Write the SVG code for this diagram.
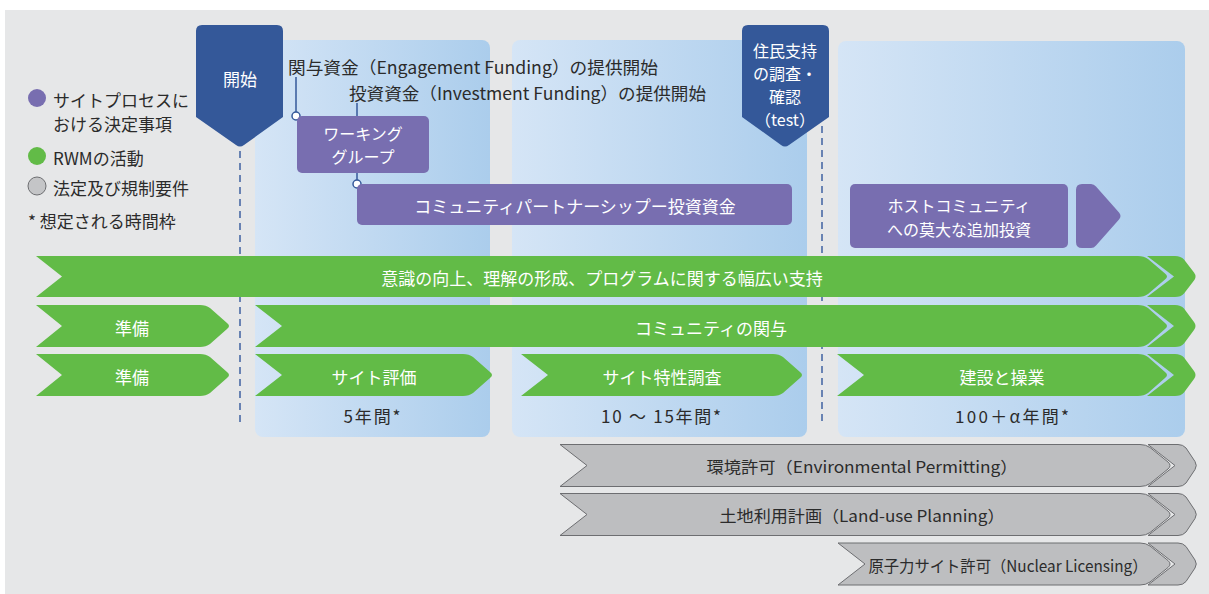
<svg xmlns="http://www.w3.org/2000/svg" width="1209" height="594" viewBox="0 0 1209 594">
<defs>
<linearGradient id="panelGrad" x1="0" y1="0" x2="1" y2="0">
<stop offset="0" stop-color="#d5e5f6"/>
<stop offset="1" stop-color="#abcdec"/>
</linearGradient>
<style>
text{font-family:"Noto Sans CJK JP","Noto Sans",sans-serif;}
.bg{fill:#e6e7e8;}
.panel{fill:url(#panelGrad);}
.banner{fill:#345899;}
.wt{fill:#ffffff;font-size:17px;text-anchor:middle;dominant-baseline:central;}
.ws{fill:#ffffff;font-size:16px;text-anchor:middle;dominant-baseline:central;}
.dk{fill:#2b2b2b;font-size:17px;dominant-baseline:central;}
.dkm{fill:#2b2b2b;font-size:17px;text-anchor:middle;dominant-baseline:central;}
.gt{fill:#2b2b2b;font-size:16px;text-anchor:middle;dominant-baseline:central;}
.purple{fill:#786eb0;}
.green{fill:#62bb47;}
.gray{fill:#bdbec0;stroke:#6d6e71;stroke-width:1;}
.dash{stroke:#4a6aa5;stroke-width:1.6;stroke-dasharray:7 5;fill:none;}
.conn{stroke:#34589a;stroke-width:1.5;fill:none;}
.dot{fill:#ffffff;stroke:#34589a;stroke-width:1.5;}
</style>
</defs>

<rect class="bg" x="5" y="10" width="1204" height="584"/>

<g id="panels">
<rect class="panel" x="255" y="40" width="235" height="397" rx="8"/>
<rect class="panel" x="512" y="40" width="295" height="397" rx="8"/>
<rect class="panel" x="838" y="41" width="347" height="396" rx="8"/>
</g>

<g id="legend">
<circle cx="37" cy="98" r="9" fill="#786eb0"/>
<text class="dk" x="53" y="99">サイトプロセスに</text>
<text class="dk" x="53" y="123">おける決定事項</text>
<circle cx="37" cy="156" r="9" fill="#62bb47"/>
<text class="dk" x="53" y="157">RWMの活動</text>
<circle cx="37" cy="186" r="9" fill="#c4c5c7" stroke="#6d6e71" stroke-width="1"/>
<text class="dk" x="53" y="187">法定及び規制要件</text>
<text class="dk" x="28" y="220">* 想定される時間枠</text>
</g>

<g id="connectors">
<line class="dash" x1="240" y1="151" x2="240" y2="426"/>
<line class="dash" x1="822" y1="126" x2="822" y2="423"/>
<line class="conn" x1="296" y1="77" x2="296" y2="112"/>
<line class="conn" x1="357" y1="103" x2="357" y2="116"/>
<line class="conn" x1="357" y1="173" x2="357" y2="180"/>
<circle class="dot" cx="296" cy="116" r="4"/>
<circle class="dot" cx="357" cy="184" r="4"/>
</g>

<g id="start">
<path class="banner" d="M202,25 H277 Q283,25 283,31 V117 L244,145 Q240,148 236,145 L196,117 V31 Q196,25 202,25 Z"/>
<text class="wt" x="240" y="78">開始</text>
</g>

<g id="test">
<path class="banner" d="M748,25 H823 Q829,25 829,31 V117 L789,145 Q785,148 781,145 L742,117 V31 Q742,25 748,25 Z"/>
<text class="ws" x="785" y="49.5">住民支持</text>
<text class="ws" x="785" y="72.8">の調査・</text>
<text class="ws" x="785" y="96.1">確認</text>
<text class="ws" x="785" y="119.4">（test）</text>
</g>

<g id="funding-labels">
<text class="dk" x="288" y="66" textLength="370" lengthAdjust="spacingAndGlyphs">関与資金（Engagement Funding）の提供開始</text>
<text class="dk" x="349" y="92" textLength="357" lengthAdjust="spacingAndGlyphs">投資資金（Investment Funding）の提供開始</text>
</g>

<g id="working-group">
<rect class="purple" x="297" y="116" width="132" height="57" rx="5"/>
<text class="ws" x="363" y="132.5">ワーキング</text>
<text class="ws" x="363" y="155.8">グループ</text>
</g>

<g id="community-partnership">
<rect class="purple" x="357" y="184" width="435" height="41" rx="5"/>
<text class="wt" x="575" y="205">コミュニティパートナーシップー投資資金</text>
</g>

<g id="host-community">
<rect class="purple" x="850" y="184" width="218" height="64" rx="5"/>
<path class="purple" d="M1082,184 H1091 Q1094,184 1096,186.5 L1119,212.5 Q1122,216 1119,219.5 L1096,245.5 Q1094,248 1091,248 H1082 Q1076,248 1076,242 V190 Q1076,184 1082,184 Z"/>
<text class="ws" x="959" y="205">ホストコミュニティ</text>
<text class="ws" x="959" y="228.5">への莫大な追加投資</text>
</g>

<g id="awareness">
<path class="green" d="M36,256 H1138 Q1144,256 1148,259 L1165,273.5 Q1169,276.5 1165,279.5 L1148,294 Q1144,297 1138,297 H36 L62,276.5 Z"/>
<path class="green" d="M1147,256 H1175 Q1181,256 1184,259.5 L1194,272.5 Q1197,276.5 1194,280.5 L1184,293.5 Q1181,297 1175,297 H1147 L1174,276.5 Z"/>
<text class="wt" x="602" y="277.5">意識の向上、理解の形成、プログラムに関する幅広い支持</text>
</g>

<g id="prep-1">
<path class="green" d="M36,305 H200 Q206,305 210,308 L227,323 Q231,326 227,329 L210,344 Q206,347 200,347 H36 L62,326 Z"/>
<text class="wt" x="132" y="327">準備</text>
</g>

<g id="community-engagement">
<path class="green" d="M255,305 H1138 Q1144,305 1148,308 L1165,323 Q1169,326 1165,329 L1148,344 Q1144,347 1138,347 H255 L282,326 Z"/>
<path class="green" d="M1147,305 H1175 Q1181,305 1184,308.5 L1194,322 Q1197,326 1194,330 L1184,343.5 Q1181,347 1175,347 H1147 L1174,326 Z"/>
<text class="wt" x="711" y="327">コミュニティの関与</text>
</g>

<g id="prep-2">
<path class="green" d="M36,354 H200 Q206,354 210,357 L227,372 Q231,375 227,378 L210,393 Q206,396 200,396 H36 L62,375 Z"/>
<text class="wt" x="132" y="376">準備</text>
</g>

<g id="site-evaluation">
<path class="green" d="M255,354 H463 Q469,354 473,357 L490,372 Q494,375 490,378 L473,393 Q469,396 463,396 H255 L282,375 Z"/>
<text class="wt" x="374" y="376">サイト評価</text>
</g>

<g id="site-characterisation">
<path class="green" d="M521,354 H773 Q779,354 783,357 L800,372 Q804,375 800,378 L783,393 Q779,396 773,396 H521 L548,375 Z"/>
<text class="wt" x="662" y="376">サイト特性調査</text>
</g>

<g id="construction">
<path class="green" d="M837,354 H1138 Q1144,354 1148,357 L1165,372 Q1169,375 1165,378 L1148,393 Q1144,396 1138,396 H837 L864,375 Z"/>
<path class="green" d="M1147,354 H1175 Q1181,354 1184,357.5 L1194,371 Q1197,375 1194,379 L1184,392.5 Q1181,396 1175,396 H1147 L1174,375 Z"/>
<text class="wt" x="1002" y="376">建設と操業</text>
</g>

<g id="durations">
<text class="dkm" x="372" y="415" textLength="57" lengthAdjust="spacing">5年間*</text>
<text class="dkm" x="661" y="415" textLength="120" lengthAdjust="spacing">10 ～ 15年間*</text>
<text class="dkm" x="1012" y="415" textLength="114" lengthAdjust="spacing">100＋α年間*</text>
</g>

<g id="environmental-permitting">
<path class="gray" d="M560,444.5 H1140 Q1146,444.5 1150,447.5 L1168,462 Q1172,465.5 1168,469 L1150,483.5 Q1146,486.5 1140,486.5 H560 L587,465.5 Z"/>
<path class="gray" d="M1148,444.5 H1178 Q1183,444.5 1186,448 L1195,461.5 Q1197.5,465.5 1195,469.5 L1186,483 Q1183,486.5 1178,486.5 H1148 L1175,465.5 Z"/>
<text class="gt" x="862" y="466" textLength="311" lengthAdjust="spacingAndGlyphs">環境許可（Environmental Permitting）</text>
</g>

<g id="land-use-planning">
<path class="gray" d="M560,493.5 H1140 Q1146,493.5 1150,496.5 L1168,511 Q1172,514.5 1168,518 L1150,532.5 Q1146,535.5 1140,535.5 H560 L587,514.5 Z"/>
<path class="gray" d="M1148,493.5 H1178 Q1183,493.5 1186,497 L1195,510.5 Q1197.5,514.5 1195,518.5 L1186,532 Q1183,535.5 1178,535.5 H1148 L1175,514.5 Z"/>
<text class="gt" x="862" y="515" textLength="285" lengthAdjust="spacingAndGlyphs">土地利用計画（Land-use Planning）</text>
</g>

<g id="nuclear-licensing">
<path class="gray" d="M838,543 H1140 Q1146,543 1150,546 L1168,560.5 Q1172,564 1168,567.5 L1150,582 Q1146,585 1140,585 H838 L865,564 Z"/>
<path class="gray" d="M1148,543 H1178 Q1183,543 1186,546.5 L1195,560 Q1197.5,564 1195,568 L1186,581.5 Q1183,585 1178,585 H1148 L1175,564 Z"/>
<text class="gt" x="1008" y="564.5" textLength="279" lengthAdjust="spacingAndGlyphs">原子力サイト許可（Nuclear Licensing）</text>
</g>
</svg>
